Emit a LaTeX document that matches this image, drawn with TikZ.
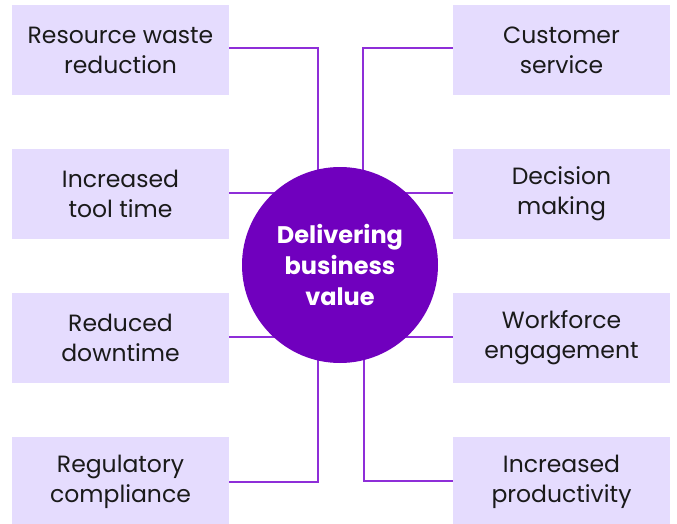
\documentclass[tikz,border=0pt]{standalone}
\usepackage{fontspec}
\setmainfont{Poppins}
\usepackage{xcolor}
\usetikzlibrary{calc}
\definecolor{boxfill}{HTML}{E5DCFE}
\definecolor{hubfill}{HTML}{7000BE}
\definecolor{linkline}{HTML}{8E2ED8}
\definecolor{boxtext}{HTML}{1A1A1A}
\tikzset{
 benefit/.style={fill=boxfill, text=boxtext, minimum width=217pt, minimum height=90pt, inner sep=0, align=center, font=\fontsize{23.5}{30}\selectfont},
 hub/.style={circle, fill=hubfill, text=white, minimum size=196pt, inner sep=0, align=center, font=\fontsize{24}{31}\selectfont\bfseries},
 link/.style={linkline, line width=1.3pt}
}
\begin{document}
\begin{tikzpicture}[x=1pt, y=-1pt]
\useasboundingbox (0,0) rectangle (677,524);
\clip (0,0) rectangle (677,524);
% boxes on both sides
\node[benefit] (waste)    at (120.5,50)  {Resource waste\\reduction};
\node[benefit] (tooltime) at (120.5,194) {Increased\\tool time};
\node[benefit] (downtime) at (120.5,338) {Reduced\\downtime};
\node[benefit] (regul)    at (120.5,482) {Regulatory\\compliance};
\node[benefit] (service)  at (561.5,50)  {Customer\\service};
\node[benefit] (decision) at (561.5,194) {Decision\\making};
\node[benefit] (engage)   at (561.5,338) {Workforce\\engagement};
\node[benefit] (product)  at (561.5,482) {Increased\\productivity};
\coordinate (hubc) at (340,265);
% connectors, drawn under the circle
\draw[link] ([yshift=2pt]waste.east) -| ($(hubc)+(-22,0)$);
\draw[link] ([yshift=2pt]service.west) -| ($(hubc)+(23,0)$);
\draw[link] ([yshift=1pt]tooltime.east) -- ([yshift=1pt]tooltime.east -| hubc);
\draw[link] ([yshift=1pt]decision.west) -- ([yshift=1pt]decision.west -| hubc);
\draw[link] ([yshift=1pt]downtime.east) -- ([yshift=1pt]downtime.east -| hubc);
\draw[link] ([yshift=1pt]engage.west) -- ([yshift=1pt]engage.west -| hubc);
\draw[link] (regul.east) -| ($(hubc)+(-22,0)$);
\draw[link] ([yshift=1pt]product.west) -| ($(hubc)+(24,0)$);
\node[hub] (value) at (hubc) {Delivering\\business\\value};
\end{tikzpicture}
\end{document}
